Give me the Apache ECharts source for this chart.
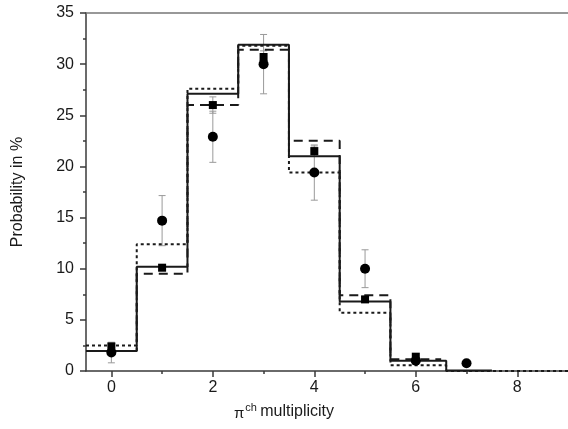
<!DOCTYPE html>
<html>
<head>
<meta charset="utf-8">
<script src="https://cdn.jsdelivr.net/npm/echarts@6/dist/echarts.min.js"></script>
<style>html,body{margin:0;padding:0;background:#fff;}#c{width:568px;height:429px;}</style>
</head>
<body>
<div id="c"></div>
<script>
// Histogram bin edges and heights
var solidEdges = [-0.5, 0.5, 1.5, 2.5, 3.5, 4.5, 5.5, 6.6, 7.5];
var solidValues = [1.95, 10.2, 27.1, 31.9, 21.0, 6.8, 1.0, 0.05];
var dashEdges = [-0.5, 0.5, 1.5, 2.5, 3.5, 4.5, 5.5, 6.5];
var dashValues = [1.95, 9.5, 26.0, 31.4, 22.5, 7.4, 1.15];
var dotEdges = [-0.5, 0.5, 1.5, 2.5, 3.5, 4.5, 5.5, 6.6, 7.5, 9.0];
var dotValues = [2.5, 12.4, 27.6, 31.8, 19.4, 5.7, 0.55, 0.0, 0.0];
// Circle data points with errors
var circleX = [0, 1, 2, 3, 4, 5, 6, 7];
var circleY = [1.8, 14.7, 22.9, 30.0, 19.4, 10.0, 1.0, 0.75];
var circleErr = [1.0, 2.45, 2.5, 2.9, 2.7, 1.85, 0.3, 0];
// Square data points with errors
var squareX = [0, 1, 2, 3, 4, 5, 6];
var squareY = [2.4, 10.1, 26.0, 30.7, 21.5, 7.0, 1.4];
var squareErr = [0.4, 0.3, 0.8, 0.6, 0.5, 0.3, 0.3];
// Axis ticks
var xMajorTicks = [0, 2, 4, 6, 8];
var xMinorTicks = [1, 3, 5, 7];

function stepData(edges, values) {
  var d = [];
  for (var i = 0; i < values.length; i++) d.push([edges[i], values[i]]);
  d.push([edges[values.length], values[values.length - 1]]);
  return d;
}
function errData(xs, ys, es) {
  var d = [];
  for (var i = 0; i < xs.length; i++) if (es[i] > 0) d.push([xs[i], ys[i] - es[i], ys[i] + es[i]]);
  return d;
}
function pts(xs, ys) { return xs.map(function (x, i) { return [x, ys[i]]; }); }

function errRender(params, api) {
  var x = api.value(0);
  var lo = api.coord([x, api.value(1)]);
  var hi = api.coord([x, api.value(2)]);
  var cw = 3.5;
  var st = { stroke: '#9a9a9a', lineWidth: 1 };
  return {
    type: 'group',
    children: [
      { type: 'line', shape: { x1: lo[0], y1: lo[1], x2: hi[0], y2: hi[1] }, style: st },
      { type: 'line', shape: { x1: lo[0] - cw, y1: lo[1], x2: lo[0] + cw, y2: lo[1] }, style: st },
      { type: 'line', shape: { x1: hi[0] - cw, y1: hi[1], x2: hi[0] + cw, y2: hi[1] }, style: st }
    ]
  };
}

var FONT = 'Liberation Sans';
var AX = '#3a3a3a';
var chart = echarts.init(document.getElementById('c'), null, { renderer: 'canvas' });
chart.setOption({
  animation: false,
  backgroundColor: '#fff',
  grid: { left: 86, top: 13, right: -2, bottom: 58, containLabel: false },
  xAxis: [
    {
      type: 'value', min: -0.5, max: 9, position: 'bottom',
      axisLine: { show: true, onZero: false, lineStyle: { color: AX, width: 1.5 } },
      axisTick: { show: true, inside: false, length: 6, customValues: xMajorTicks, lineStyle: { color: AX, width: 1.5 } },
      axisLabel: { show: true, customValues: xMajorTicks, margin: 9, color: '#1a1a1a', fontSize: 16, fontFamily: FONT },
      splitLine: { show: false }
    },
    {
      type: 'value', min: -0.5, max: 9, position: 'bottom',
      axisLine: { show: false, onZero: false },
      axisTick: { show: true, inside: false, length: 3, customValues: xMinorTicks, lineStyle: { color: AX, width: 1.5 } },
      axisLabel: { show: false },
      splitLine: { show: false }
    },
    {
      type: 'value', min: -0.5, max: 9, position: 'top',
      axisLine: { show: true, onZero: false, lineStyle: { color: '#777', width: 1.5 } },
      axisTick: { show: false }, axisLabel: { show: false }, splitLine: { show: false }
    }
  ],
  yAxis: {
    type: 'value', min: 0, max: 35, interval: 5,
    axisLine: { show: true, onZero: false, lineStyle: { color: AX, width: 1.5 } },
    axisTick: { show: true, inside: false, length: 6, lineStyle: { color: AX, width: 1.5 } },
    minorTick: { show: true, splitNumber: 2, length: 3, lineStyle: { color: AX, width: 1.5 } },
    axisLabel: { color: '#1a1a1a', fontSize: 16, fontFamily: FONT, margin: 12 },
    splitLine: { show: false }
  },
  graphic: [
    {
      type: 'text', rotation: Math.PI / 2, x: 18, y: 192,
      style: { text: 'Probability in %', font: '16px "Liberation Sans"', fill: '#1a1a1a', align: 'center', verticalAlign: 'middle' }
    },
    {
      type: 'text', x: 284, y: 412,
      style: {
        text: '{p|π}{s|ch} {m|multiplicity}',
        align: 'center', verticalAlign: 'middle',
        rich: {
          p: { font: '15px "Liberation Sans"', fill: '#1a1a1a', verticalAlign: 'bottom' },
          s: { font: '11px "Liberation Sans"', fill: '#1a1a1a', verticalAlign: 'top', padding: [0, 0, 8, 1] },
          m: { font: '16px "Liberation Sans"', fill: '#1a1a1a' }
        }
      }
    }
  ],
  series: [
    { type: 'custom', renderItem: errRender, data: errData(circleX, circleY, circleErr), z: 1, silent: true },
    { type: 'custom', renderItem: errRender, data: errData(squareX, squareY, squareErr), z: 1, silent: true },
    {
      type: 'line', step: 'end', data: stepData(dotEdges, dotValues), showSymbol: false, z: 2,
      lineStyle: { color: '#1a1a1a', width: 2, type: [3, 3] }
    },
    {
      type: 'line', step: 'end', data: stepData(dashEdges, dashValues), showSymbol: false, z: 2,
      lineStyle: { color: '#1a1a1a', width: 2, type: [9, 6] }
    },
    {
      type: 'line', step: 'end', data: stepData(solidEdges, solidValues), showSymbol: false, z: 3,
      lineStyle: { color: '#1a1a1a', width: 2 }
    },
    {
      type: 'scatter', data: pts(squareX, squareY), symbol: 'rect', symbolSize: 8, z: 4,
      itemStyle: { color: '#000', opacity: 1 }
    },
    {
      type: 'scatter', data: pts(circleX, circleY), symbol: 'circle', symbolSize: 10, z: 5,
      itemStyle: { color: '#000', opacity: 1 }
    }
  ]
});
</script>
</body>
</html>
